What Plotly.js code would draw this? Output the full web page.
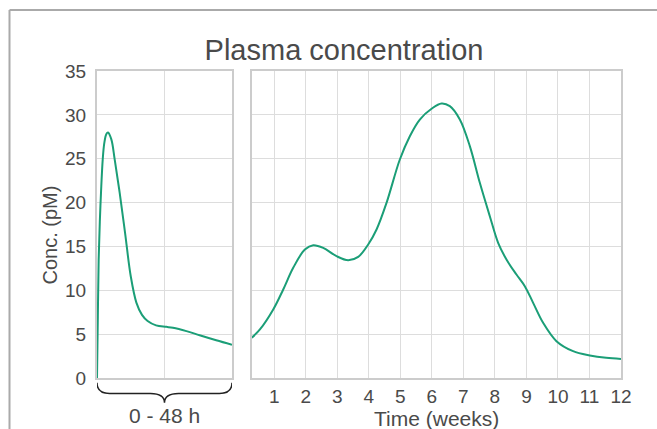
<!DOCTYPE html>
<html>
<head>
<meta charset="utf-8">
<script src="https://cdn.plot.ly/plotly-3.0.1.min.js"></script>
<style>html,body{margin:0;padding:0;background:#fff;}#chart{width:657px;height:429px;}</style>
</head>
<body>
<div id="chart"></div>
<script>
// Left panel: first 48 hours
const hoursX = [0, 0.3, 0.59, 1.0, 1.42, 2.03, 2.6, 3.3, 3.91, 5.1, 6.3, 8.07, 10.0, 12.0, 14.0, 16.0, 18.0, 21.0, 24.7, 27.0, 31.8, 36.5, 42.4, 48];
const hoursY = [0, 7.0, 13.5, 17.8, 21.1, 24.9, 26.8, 27.8, 28.0, 27.2, 24.9, 21.1, 16.5, 11.6, 8.6, 7.2, 6.5, 6.0, 5.83, 5.72, 5.34, 4.88, 4.31, 3.8];
// Right panel: weeks
const weeksX = [0.2857, 0.547, 0.969, 1.286, 1.603, 1.973, 2.237, 2.555, 2.977, 3.347, 3.664, 3.981, 4.246, 4.563, 4.985, 5.302, 5.619, 5.99, 6.307, 6.571, 6.888, 7.205, 7.522, 7.839, 8.103, 8.367, 8.684, 8.949, 9.213, 9.53, 9.953, 10.48, 11.01, 11.53, 12.0];
const weeksY = [4.58, 5.53, 7.81, 10.09, 12.56, 14.65, 15.14, 14.84, 13.89, 13.43, 13.81, 15.22, 16.93, 19.97, 24.91, 27.57, 29.47, 30.69, 31.3, 30.99, 29.47, 26.43, 22.25, 18.45, 15.41, 13.51, 11.8, 10.47, 8.57, 6.29, 4.2, 3.06, 2.57, 2.3, 2.18];
const yTicks = [0, 5, 10, 15, 20, 25, 30, 35];
const weekTicks = [1, 2, 3, 4, 5, 6, 7, 8, 9, 10, 11, 12];

const lineColor = '#1b9e77';
const FONT = 'Liberation Sans, Arial, sans-serif';
const txt = '#4a4a4a';

const traces = [
  {x: hoursX, y: hoursY, xaxis: 'x', yaxis: 'y', mode: 'lines', line: {color: lineColor, width: 2, shape: 'spline', smoothing: 1}, showlegend: false, hoverinfo: 'skip'},
  {x: weeksX, y: weeksY, xaxis: 'x2', yaxis: 'y2', mode: 'lines', line: {color: lineColor, width: 2, shape: 'spline', smoothing: 1}, showlegend: false, hoverinfo: 'skip'}
];

const axisCommon = {
  showline: true, mirror: true, linecolor: '#cccccc', linewidth: 2,
  showgrid: true, gridcolor: '#dddddd', gridwidth: 1, zeroline: false,
  ticks: '', fixedrange: true
};

const layout = {
  width: 657, height: 429,
  margin: {l: 97, r: 36, t: 71, b: 51, pad: 0},
  paper_bgcolor: '#ffffff', plot_bgcolor: '#ffffff',
  font: {family: FONT, color: txt, size: 19},
  title: {text: 'Plasma concentration', font: {family: FONT, size: 29, color: txt},
          x: 344/657, xref: 'container', xanchor: 'center', y: 1 - 50/429, yref: 'container', yanchor: 'middle'},
  xaxis: Object.assign({}, axisCommon, {domain: [0, 0.2576], range: [0, 48], dtick: 24, tick0: 0, showticklabels: false}),
  yaxis: Object.assign({}, axisCommon, {range: [0, 35], tickvals: yTicks, ticktext: yTicks.map(String), ticklabelstandoff: 5, tickfont: {size: 19, color: txt}}),
  xaxis2: Object.assign({}, axisCommon, {domain: [0.2952, 1], range: [2/7, 12], tickvals: weekTicks, ticktext: weekTicks.map(String), anchor: 'y2', tickfont: {size: 19, color: txt}, ticklabelstandoff: 0}),
  yaxis2: Object.assign({}, axisCommon, {range: [0, 35], tickvals: yTicks, anchor: 'x2', showticklabels: false}),
  annotations: [
    {text: 'Conc. (pM)', textangle: -90, xref: 'paper', yref: 'paper', x: (49 - 97)/524, y: (378.5 - 236)/307, xanchor: 'center', yanchor: 'middle', showarrow: false, font: {size: 20, color: txt}},
    {text: '0 - 48 h', xref: 'x', yref: 'paper', x: 24, y: (378.5 - 416)/307, xanchor: 'center', yanchor: 'middle', showarrow: false, font: {size: 21, color: txt}},
    {text: 'Time (weeks)', xref: 'x2 domain', yref: 'paper', x: 0.5, y: (378.5 - 419)/307, xanchor: 'center', yanchor: 'middle', showarrow: false, font: {size: 21, color: txt}}
  ],
  shapes: [
    // outer frame (top and left edges)
    {type: 'line', xref: 'paper', yref: 'paper', x0: (9.5 - 97)/524, x1: 1.2, y0: (378.5 - 10.5)/307, y1: (378.5 - 10.5)/307, line: {color: '#aaaaaa', width: 2}},
    {type: 'line', xref: 'paper', yref: 'paper', x0: (9.5 - 97)/524, x1: (9.5 - 97)/524, y0: (378.5 - 10.5)/307, y1: -0.3, line: {color: '#aaaaaa', width: 2}},
    // curly brace under the 0-48 h panel
    {type: 'path', xref: 'x', yref: 'paper',
     path: 'M 0,-0.0156 Q 0,-0.0505 4.5,-0.0505 L 19,-0.0505 Q 24,-0.0505 24,-0.0808 Q 24,-0.0505 29,-0.0505 L 43.5,-0.0505 Q 48,-0.0505 48,-0.0156',
     line: {color: '#222222', width: 1.5}}
  ]
};

Plotly.newPlot('chart', traces, layout, {staticPlot: true, displayModeBar: false});
</script>
</body>
</html>
